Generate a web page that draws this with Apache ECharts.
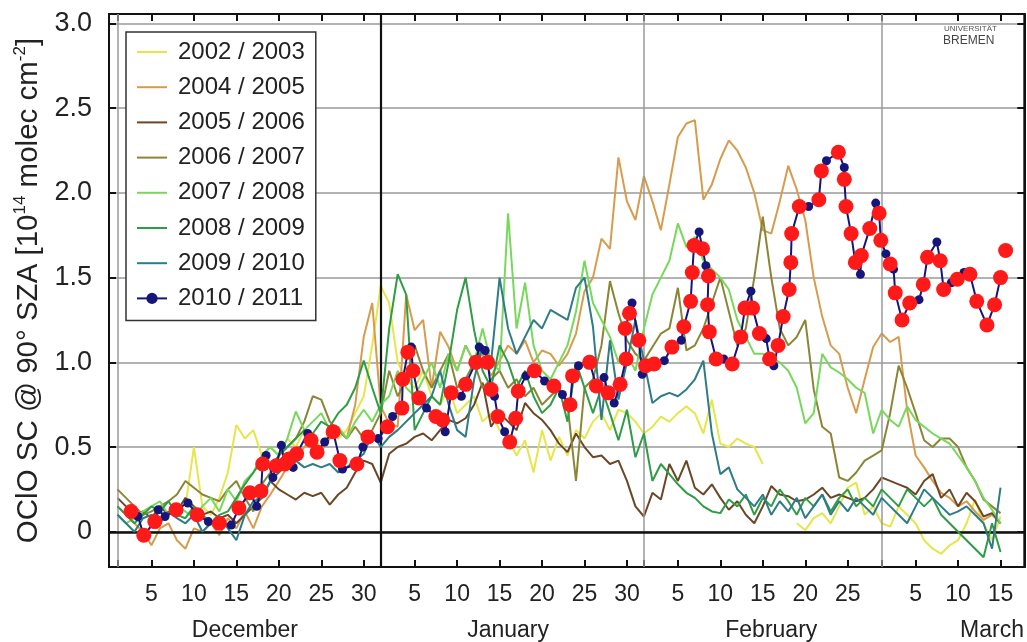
<!DOCTYPE html>
<html>
<head>
<meta charset="utf-8">
<script src="https://cdn.jsdelivr.net/npm/echarts@6/dist/echarts.min.js"></script>
<style>
  html, body { margin: 0; padding: 0; background: #fff; }
  #chart { width: 1027px; height: 642px; }
</style>
</head>
<body>
<div id="chart"></div>
<script>
// OClO slant columns at 90° SZA, one value per day; day 1 = 1 December.
const seasons = ['2002 / 2003', '2004 / 2005', '2005 / 2006', '2006 / 2007',
                 '2007 / 2008', '2008 / 2009', '2009 / 2010', '2010 / 2011'];

const s0203 = [
  null, null, null, null, null, null, null, null, 0.15, 0.50,
  0.15, 0.10, 0.20, 0.35, 0.63, 0.55, 0.60, 0.45, 0.50, 0.45,
  0.55, 0.50, 0.60, 0.55, 0.50, 0.60, 0.55, 0.60, 0.70, 0.80,
  1.10, 1.45, 1.35, 1.00, 0.90, 0.85, 0.95, 0.80, 0.75, 0.85,
  0.70, 0.75, 0.80, 0.65, 0.70, 0.60, 0.55, 0.45, 0.54, 0.35,
  0.60, 0.42, 0.56, 0.45, 0.60, 0.55, 0.65, 0.70, 0.60, 0.72,
  0.70, 0.65, 0.58, 0.62, 0.68, 0.65, 0.70, 0.74, 0.70, 0.58,
  0.78, 0.52, 0.50, 0.55, 0.52, 0.50, 0.40, null, null, null,
  0.05, 0.01, 0.08, 0.11, 0.05, 0.15, 0.26, 0.29, 0.10, 0.15,
  0.05, 0.03, 0.15, 0.10, 0.05, -0.05, -0.10, -0.13, -0.08, -0.05,
  0.05, 0.19, 0.05, -0.05, 0.09, null
];
const s0405 = [
  0.15, 0.10, 0.05, 0.00, -0.08, 0.02, 0.05, -0.05, -0.10, 0.02,
  0.00, 0.05, -0.02, 0.08, 0.02, 0.12, 0.02, 0.15, 0.22, 0.30,
  0.38, 0.42, 0.50, 0.55, 0.48, 0.55, 0.60, 0.55, 0.75, 1.15,
  1.35, 0.74, 0.64, 0.62, 1.40, 1.19, 1.25, 0.85, 1.18, 1.09,
  0.95, 1.10, 1.00, 1.05, 0.92, 1.01, 1.10, 1.05, 1.13, 1.00,
  1.07, 1.05, 0.98, 1.05, 1.17, 1.42, 1.50, 1.73, 1.67, 2.21,
  1.95, 1.84, 2.10, 1.95, 1.78, 2.05, 2.33, 2.41, 2.43, 1.96,
  2.05, 2.20, 2.31, 2.25, 2.15, 2.00, 1.78, 1.76, 1.95, 2.16,
  2.02, 1.84, 1.50, 1.27, 1.10, 1.05, 0.85, 0.70, 0.90, 1.09,
  1.17, 1.12, 1.15, 0.72, 0.45, 0.38, 0.30, 0.23, 0.20, 0.15,
  0.18, 0.12, 0.07, 0.10, 0.05, null
];
const s0506 = [
  0.20, 0.15, 0.10, 0.12, 0.08, 0.15, 0.10, 0.12, 0.20, 0.15,
  0.10, 0.12, 0.08, 0.10, 0.05, 0.10, 0.15, 0.20, 0.30, 0.25,
  0.22, 0.19, 0.23, 0.21, 0.23, 0.16, 0.22, 0.26, 0.35, 0.42,
  0.40, 0.29, 0.46, 0.50, 0.52, 0.56, 0.58, 0.54, 0.60, 0.66,
  0.64, 0.67, 0.75, 0.88, 0.62, 0.70, 0.65, 0.60, 0.76, 0.70,
  0.66, 0.60, 0.52, 0.47, 0.58, 0.50, 0.44, 0.45, 0.40, 0.42,
  0.30, 0.15, 0.09, 0.23, 0.19, 0.40, 0.30, 0.42, 0.26, 0.22,
  0.28, 0.20, 0.13, 0.18, 0.10, 0.05, 0.15, 0.27, 0.22, 0.21,
  0.18, 0.19, 0.22, 0.26, 0.20, 0.22, 0.20, 0.18, 0.20, 0.25,
  0.32, 0.30, 0.28, 0.26, 0.22, 0.30, 0.34, 0.20, 0.25, 0.15,
  0.23, 0.18, 0.09, 0.11, 0.05, null
];
const s0607 = [
  0.25, 0.20, 0.15, 0.10, 0.12, 0.15, 0.18, 0.22, 0.30, 0.26,
  0.22, 0.20, 0.18, 0.25, 0.30, 0.20, 0.12, 0.28, 0.35, 0.45,
  0.50, 0.55, 0.65, 0.80, 0.78, 0.65, 0.60, 0.55, 0.62, 0.55,
  0.60, 0.70, 0.95, 0.80, 0.90, 1.10, 0.95, 0.85, 0.95, 1.05,
  0.85, 0.90, 1.00, 0.85, 0.90, 0.95, 0.85, 0.90, 0.80, 0.85,
  0.75, 0.80, 0.85, 0.75, 0.30, 0.85, 0.90, 1.10, 1.48, 1.29,
  1.13, 1.05, 1.01, 1.09, 1.17, 1.20, 1.44, 1.07, 1.10, 1.20,
  1.35, 1.50, 1.30, 1.10, 1.20, 1.50, 1.86, 1.50, 1.20, 1.10,
  1.15, 1.25, 0.84, 0.62, 0.58, 0.32, 0.30, 0.35, 0.42, 0.45,
  0.48, 0.70, 0.98, 0.85, 0.70, 0.54, 0.50, 0.55, 0.55, 0.50,
  0.38, 0.30, 0.19, 0.15, 0.11, null
];
const s0708 = [
  0.10, 0.05, 0.08, 0.12, 0.15, 0.18, 0.10, 0.15, 0.12, 0.08,
  0.15, 0.20, 0.12, 0.25, 0.18, 0.30, 0.35, 0.45, 0.50, 0.45,
  0.55, 0.71, 0.60, 0.65, 0.70, 0.60, 0.62, 0.55, 0.65, 0.72,
  0.65, 0.75, 0.80, 0.95, 0.85, 0.80, 0.90, 1.00, 0.85, 1.05,
  0.95, 1.10, 1.00, 1.20, 1.00, 0.95, 1.88, 1.20, 1.47, 1.10,
  0.95, 0.90, 1.00, 1.10, 1.30, 1.60, 1.35, 1.25, 1.15, 1.00,
  1.05, 0.95, 1.20, 1.40, 1.50, 1.60, 1.82, 1.68, 1.74, 1.60,
  1.55, 1.50, 1.43, 1.25, 1.15, 1.05, 1.05, 1.03, 1.00, 0.95,
  0.85, 0.64, 0.70, 1.05, 0.97, 0.94, 0.90, 0.85, 0.82, 0.58,
  0.72, 0.66, 0.62, 0.74, 0.66, 0.62, 0.58, 0.55, 0.52, 0.45,
  0.38, 0.30, 0.20, 0.13, 0.05, null
];
const s0809 = [
  0.15, 0.10, 0.05, 0.10, 0.15, 0.12, 0.18, 0.10, 0.08, 0.15,
  0.10, 0.05, 0.10, 0.12, 0.20, 0.28, 0.35, 0.42, 0.38, 0.45,
  0.50, 0.55, 0.60, 0.58, 0.65, 0.62, 0.70, 0.75, 0.85, 1.01,
  0.85, 0.70, 1.20, 1.52, 1.40, 0.60, 0.70, 0.80, 0.75, 1.00,
  1.31, 1.50, 1.19, 0.95, 0.85, 1.10, 1.00, 0.85, 0.95, 0.80,
  0.70, 0.75, 0.85, 0.65, 1.00, 0.85, 0.70, 0.85, 0.70, 0.54,
  0.72, 0.44, 0.58, 0.30, 0.40, 0.34, 0.28, 0.23, 0.20, 0.15,
  0.12, 0.11, 0.19, 0.15, 0.22, 0.10, 0.20, 0.15, 0.25, 0.18,
  0.10, 0.20, 0.15, 0.22, 0.12, 0.20, 0.25, 0.15, 0.20, 0.15,
  0.25, 0.20, 0.15, 0.25, 0.20, 0.15, 0.20, 0.10, 0.05, 0.00,
  -0.05, -0.10, -0.15, 0.05, -0.12, null
];
const s0910 = [
  0.10, 0.05, 0.00, 0.08, 0.10, 0.05, 0.12, 0.08, 0.05, 0.10,
  0.00, 0.05, 0.08, 0.02, -0.05, 0.10, 0.18, 0.20, 0.30, 0.35,
  0.40, 0.42, 0.38, 0.40, 0.38, 0.40, 0.35, 0.38, 0.42, 0.46,
  0.58, 0.50, 0.56, 0.60, 0.65, 0.70, 0.75, 0.80, 0.95, 0.75,
  0.60, 0.56, 0.90, 1.10, 1.00, 1.50, 1.20, 1.05, 1.15, 1.25,
  1.20, 1.31, 1.28, 1.25, 1.44, 1.50, 1.21, 0.66, 1.13, 0.78,
  1.00, 1.25, 1.01, 0.76, 0.80, 0.82, 0.80, 0.84, 0.90, 1.01,
  0.58, 0.34, 0.38, 0.25, 0.20, 0.15, 0.22, 0.10, 0.18, 0.12,
  0.20, 0.08, 0.15, 0.22, 0.10, 0.18, 0.12, 0.20, 0.15, 0.10,
  0.20, 0.15, 0.10, 0.05, 0.15, 0.25, 0.20, 0.15, 0.10, 0.12,
  0.15, 0.10, 0.05, -0.10, 0.26, null
];

// 2010/2011 observations (fractional day, value); flag 1 = highlighted, 2 = highlighted only
const days1011 = [
  2.6, 3.4, 4.1, 5.4, 5.8, 6.6, 7.9, 9.3, 10.4, 11.7, 13.0, 14.4, 15.3, 16.6, 17.4, 17.9,
  18.1, 18.5, 19.3, 19.7, 20.3, 20.7, 21.2, 21.7, 22.1, 23.4, 23.8, 24.5, 25.4, 26.4, 27.2,
  27.5, 29.2, 29.9, 30.5, 31.7, 32.8,
  33.4, 34.5, 34.6, 35.2, 35.6, 35.8, 36.5, 37.4, 38.5, 39.3,
  39.6, 40.3, 41.5, 42.0, 43.2, 43.6, 44.3, 44.6, 45.0, 45.4,
  45.8, 46.6, 47.2, 47.9, 48.2, 49.1, 50.1, 51.3, 52.4, 53.4,
  54.3, 54.6, 55.3, 56.6, 57.4, 58.3, 58.8, 59.5, 60.2, 60.9,
  60.8, 61.3, 61.6, 62.4, 62.8, 63.2, 64.2, 65.4, 66.3, 67.4,
  67.7, 68.5, 68.7, 68.9, 69.5, 69.9, 70.3, 70.6, 70.5, 70.7,
  71.5, 72.4, 73.4, 74.4, 74.9, 75.6, 75.8, 76.6, 77.4, 77.8,
  78.3, 78.8, 79.4, 80.1, 80.3, 80.4, 81.3, 82.4, 83.6, 83.9,
  84.5, 85.9, 86.6, 86.6, 86.8, 87.4, 87.9, 88.5, 88.6, 89.6,
  90.3, 90.7, 90.9, 91.5, 92.0, 92.4, 92.6, 93.4, 94.3, 95.4,
  95.9, 96.4, 97.5, 97.9, 98.3, 99.2, 99.9, 100.7, 101.4, 102.2,
  103.4, 104.3, 105.0, 105.6
];
const vals1011 = [
  0.12, 0.09, -0.02, 0.06, 0.13, 0.09, 0.13, 0.17, 0.10, 0.06, 0.05, 0.04, 0.14, 0.23, 0.15, 0.24,
  0.40, 0.45, 0.32, 0.39, 0.51, 0.40, 0.43, 0.38, 0.46, 0.58, 0.54, 0.47, 0.53, 0.59, 0.42,
  0.37, 0.40, 0.50, 0.56, 0.55, 0.62,
  0.68, 0.73, 0.90, 1.06, 1.09, 0.95, 0.79, 0.73, 0.68, 0.66,
  0.59, 0.82, 0.80, 0.87, 1.00, 1.09, 1.07, 1.00, 0.84, 0.80,
  0.68, 0.59, 0.53, 0.67, 0.83, 0.92, 0.95, 0.89, 0.86, 0.81,
  0.75, 0.92, 0.98, 1.00, 0.86, 0.91, 0.82, 0.76, 0.87, 1.02,
  1.20, 1.29, 1.35, 1.13, 0.93, 0.98, 0.99, 1.01, 1.09, 1.13,
  1.21, 1.36, 1.53, 1.69, 1.77, 1.67, 1.57, 1.51, 1.34, 1.18,
  1.02, 1.02, 0.99, 1.15, 1.32, 1.42, 1.32, 1.17, 1.14, 1.02,
  0.98, 1.10, 1.27, 1.43, 1.59, 1.76, 1.92, 1.92, 1.96, 2.13,
  2.19, 2.24, 2.15, 2.08, 1.92, 1.76, 1.59, 1.52, 1.63, 1.79,
  1.94, 1.88, 1.72, 1.64, 1.58, 1.55, 1.41, 1.25, 1.35, 1.37,
  1.46, 1.62, 1.71, 1.60, 1.43, 1.47, 1.49, 1.53, 1.52, 1.36,
  1.22, 1.34, 1.50, 1.66
];
const flags1011 = [
  1, 0, 1, 1, 0, 0, 1, 0, 1, 0, 1, 0, 1, 1, 0, 1,
  1, 0, 0, 1, 0, 1, 1, 0, 1, 0, 1, 1, 0, 1, 1,
  0, 1, 0, 1, 0, 1,
  0, 1, 1, 1, 0, 1, 1, 0, 1, 1,
  0, 1, 0, 1, 1, 0, 0, 1, 1, 0,
  1, 0, 1, 1, 1, 0, 1, 0, 1, 0,
  1, 1, 0, 1, 1, 0, 1, 0, 1, 1,
  1, 1, 0, 1, 0, 1, 1, 0, 1, 0,
  1, 1, 1, 1, 0, 1, 0, 1, 1, 1,
  1, 0, 1, 1, 1, 0, 1, 1, 0, 1,
  0, 1, 1, 1, 1, 1, 1, 0, 1, 1,
  0, 1, 0, 1, 1, 1, 1, 0, 1, 1,
  0, 1, 1, 0, 1, 0, 1, 1, 1, 0,
  1, 1, 0, 1, 1, 0, 1, 0, 1, 1,
  1, 1, 1, 2
];

// x axis: tick days with day-of-month labels, and month boundaries
const tickDays   = [5, 10, 15, 20, 25, 30, 36, 41, 46, 51, 56, 61, 67, 72, 77, 82, 87, 95, 100, 105];
const tickLabels = ['5', '10', '15', '20', '25', '30', '5', '10', '15', '20', '25', '30',
                    '5', '10', '15', '20', '25', '5', '10', '15'];
const monthStarts = [1, 32, 63, 91];
const monthNames  = ['December', 'January', 'February', 'March'];

const dailySeries = [s0203, s0405, s0506, s0607, s0708, s0809, s0910];
const lineColors = ['#e6e64a', '#d69c4e', '#6b4727', '#8a8636', '#78d85c', '#2f9c46', '#2e7c86'];
const navy = '#15157a';
const red = '#ff1a1a';
const FONT = "'Liberation Sans', 'DejaVu Sans', Arial, sans-serif";

const monthCenters = [16, 47, 78, 104];
const X_MIN = 0, X_MAX = 107.8;

const series = dailySeries.map((vals, k) => ({
  name: seasons[k],
  type: 'line',
  xAxisIndex: 0,
  data: vals.map((v, i) => [i + 1, v]),
  symbol: 'none',
  connectNulls: false,
  lineStyle: { width: 2, color: lineColors[k] },
  itemStyle: { color: lineColors[k] },
  z: 2 + k,
  animation: false
}));

// month boundaries and the zero line
series[0].markLine = {
  silent: true,
  symbol: 'none',
  label: { show: false },
  animation: false,
  data: [
    { xAxis: monthStarts[0], lineStyle: { color: '#9a9a9a', width: 1.5, type: 'solid' } },
    { xAxis: monthStarts[1], lineStyle: { color: '#111', width: 2.2, type: 'solid' } },
    { xAxis: monthStarts[2], lineStyle: { color: '#9a9a9a', width: 1.5, type: 'solid' } },
    { xAxis: monthStarts[3], lineStyle: { color: '#9a9a9a', width: 1.5, type: 'solid' } },
    { yAxis: 0, lineStyle: { color: '#111', width: 2.5, type: 'solid' } }
  ]
};

const line1011 = [];
const marked1011 = [];
days1011.forEach((d, i) => {
  if (flags1011[i] !== 2) line1011.push([d, vals1011[i]]);
  if (flags1011[i] >= 1) marked1011.push([d, vals1011[i]]);
});

series.push({
  name: seasons[7],
  type: 'line',
  xAxisIndex: 0,
  data: line1011,
  symbol: 'circle',
  symbolSize: 9,
  showAllSymbol: true,
  lineStyle: { width: 2, color: navy },
  itemStyle: { color: navy, opacity: 1 },
  z: 12,
  animation: false
});
series.push({
  name: 'highlighted',
  type: 'scatter',
  xAxisIndex: 0,
  data: marked1011,
  symbol: 'circle',
  symbolSize: 15,
  itemStyle: { color: red, opacity: 1 },
  z: 13,
  animation: false
});

const dayLabel = v => {
  const i = tickDays.indexOf(Math.round(v));
  return i >= 0 ? tickLabels[i] : '';
};
const allTicks = tickDays.concat(monthStarts).sort((a, b) => a - b);

// legend: plain line keys, a dotted key for the last season
const legendItems = seasons.map((s, k) =>
  k < 7 ? { name: s, itemStyle: { opacity: 0 } } : { name: s });

const chart = echarts.init(document.getElementById('chart'), null, { renderer: 'canvas' });
chart.setOption({
  animation: false,
  backgroundColor: '#fff',
  textStyle: { fontFamily: FONT },
  grid: {
    left: 109, right: 2, top: 14, bottom: 75,
    show: true, borderColor: '#111', borderWidth: 2, backgroundColor: 'transparent'
  },
  legend: {
    data: legendItems,
    orient: 'vertical',
    left: 126, top: 32,
    padding: [7, 11, 9, 10],
    itemGap: 9.2,
    itemWidth: 30,
    itemHeight: 14,
    backgroundColor: '#fff',
    borderColor: '#333',
    borderWidth: 1.5,
    borderRadius: 0,
    z: 30,
    textStyle: { fontSize: 24, color: '#222', fontFamily: FONT, lineHeight: 26, padding: [0, 0, 0, 6] }
  },
  xAxis: [
    {
      type: 'value', min: X_MIN, max: X_MAX, position: 'bottom',
      axisLine: { show: true, onZero: false, lineStyle: { color: '#111', width: 2 } },
      axisTick: { show: true, inside: true, length: 7, customValues: allTicks, lineStyle: { color: '#111', width: 2 } },
      axisLabel: { customValues: tickDays, formatter: dayLabel, fontSize: 23, color: '#222', margin: 16, fontFamily: FONT },
      splitLine: { show: false }
    },
    {
      type: 'value', min: X_MIN, max: X_MAX, position: 'top',
      axisLine: { show: true, onZero: false, lineStyle: { color: '#111', width: 2 } },
      axisTick: { show: true, inside: true, length: 7, customValues: allTicks, lineStyle: { color: '#111', width: 2 } },
      axisLabel: { show: false },
      splitLine: { show: false }
    },
    {
      type: 'value', min: X_MIN, max: X_MAX, position: 'bottom',
      axisLine: { show: false },
      axisTick: { show: false },
      axisLabel: {
        customValues: monthCenters,
        formatter: v => monthNames[monthCenters.indexOf(v)] || '',
        fontSize: 23, color: '#222', margin: 52, fontFamily: FONT
      },
      splitLine: { show: false }
    }
  ],
  yAxis: [
    {
      type: 'value', min: -0.208, max: 3.056, position: 'left',
      minInterval: 0.5, maxInterval: 0.5,
      axisLine: { show: true, onZero: false, lineStyle: { color: '#111', width: 2 } },
      axisTick: { show: true, inside: true, length: 7, lineStyle: { color: '#111', width: 2 } },
      axisLabel: {
        fontSize: 27, color: '#222', margin: 17, fontFamily: FONT,
        showMinLabel: false, showMaxLabel: false,
        formatter: v => {
          if (Math.abs(v) < 1e-9) return '0';
          return Math.abs(v * 2 - Math.round(v * 2)) < 1e-6 ? v.toFixed(1) : '';
        }
      },
      splitLine: { show: true, lineStyle: { color: '#9a9a9a', width: 1.5 } },
      name: '{t|OClO SC @ 90° SZA [10}{s|14}{t| molec cm}{s|-2}{t|]}',
      nameLocation: 'middle',
      nameGap: 64,
      nameRotate: 90,
      nameTextStyle: {
        rich: {
          t: { fontSize: 29.5, color: '#222', fontFamily: FONT, lineHeight: 32, verticalAlign: 'bottom' },
          s: { fontSize: 17, color: '#222', fontFamily: FONT, lineHeight: 32, verticalAlign: 'top' }
        }
      }
    },
    {
      type: 'value', min: -0.208, max: 3.056, position: 'right',
      minInterval: 0.5, maxInterval: 0.5,
      axisLine: { show: true, onZero: false, lineStyle: { color: '#111', width: 2 } },
      axisTick: { show: true, inside: true, length: 7, lineStyle: { color: '#111', width: 2 } },
      axisLabel: { show: false },
      splitLine: { show: false }
    }
  ],
  graphic: [
    { type: 'text', left: 944, top: 25, z: 40,
      style: { text: 'UNIVERSITÄT', font: '8px ' + FONT, fill: '#555' } },
    { type: 'text', left: 943, top: 35, z: 40,
      style: { text: 'BREMEN', font: '12px ' + FONT, fill: '#444' } }
  ],
  series: series
});
</script>
</body>
</html>
